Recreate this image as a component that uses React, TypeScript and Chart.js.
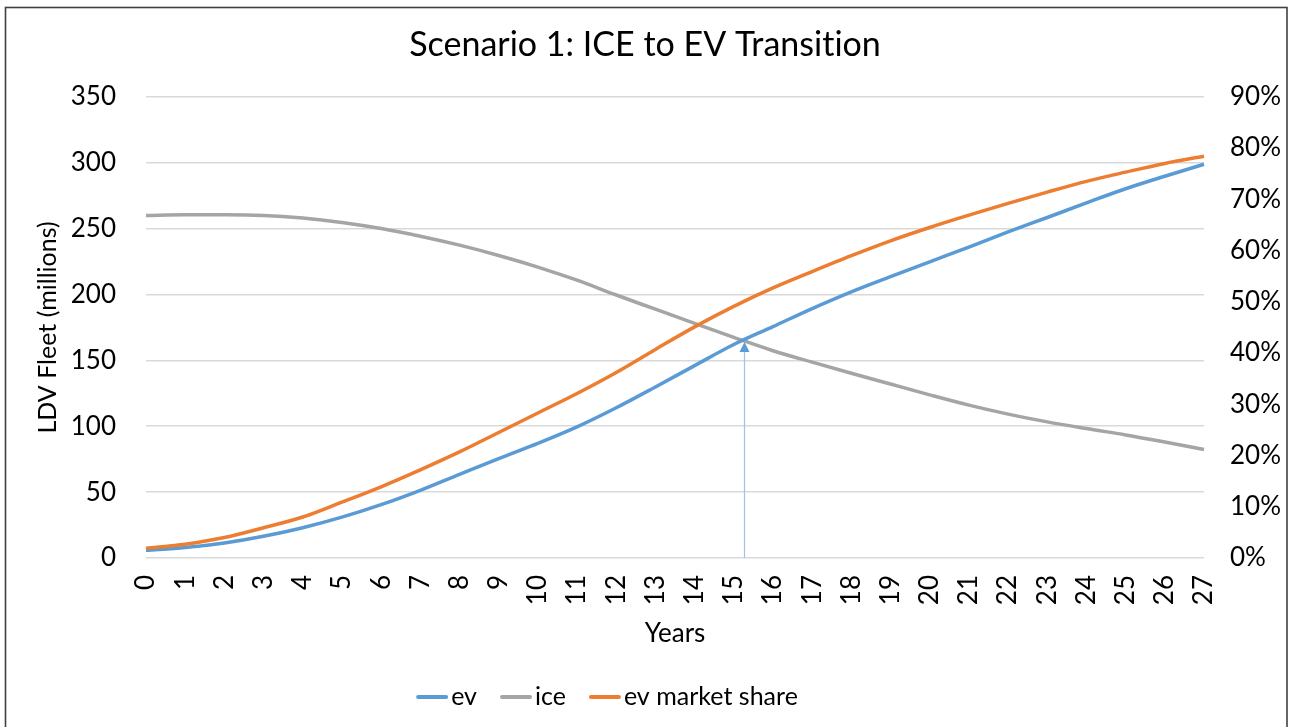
import React, { useEffect, useRef } from "react";
import { Chart, registerables } from "chart.js";

Chart.register(...registerables);

const years = ["0", "1", "2", "3", "4", "5", "6", "7", "8", "9", "10", "11", "12", "13", "14", "15", "16", "17", "18", "19", "20", "21", "22", "23", "24", "25", "26", "27"];

const evFleet = [5.8, 7.9, 11.4, 16.5, 23, 31, 40.5, 51.4, 63.5, 75.5, 87, 99.5, 114, 129.8, 146, 162, 175.6, 189.3, 202, 213.5, 224.8, 236, 247.5, 258.4, 269.5, 280.2, 289.7, 298.8];

const iceFleet = [260, 260.5, 260.5, 260, 258, 254.6, 250, 244.2, 237.4, 229.6, 220.8, 210.8, 199.6, 188.8, 178, 167.5, 157.3, 148.6, 140.2, 132, 123.8, 116, 109.2, 103.3, 98.2, 93.4, 88, 82.3];

const evShare = [1.9, 2.7, 4.0, 5.9, 8.0, 10.9, 13.9, 17.2, 20.7, 24.5, 28.3, 32.1, 36.2, 40.7, 45.1, 49.1, 52.7, 55.9, 59.0, 61.9, 64.5, 66.9, 69.2, 71.4, 73.5, 75.3, 77.0, 78.4];

const fleetTicks = [0, 50, 100, 150, 200, 250, 300, 350];
const shareTicks = [0, 10, 20, 30, 40, 50, 60, 70, 80, 90];

const titleText = "Scenario 1: ICE to EV Transition";
const arrowYear = 15.25;
const arrowValue = 164;

const FONT = "Lato, 'Open Sans', sans-serif";

export default function App() {
  const ref = useRef<HTMLCanvasElement | null>(null);

  useEffect(() => {
    if (!ref.current) return;

    const framePlugin = {
      id: "frame",
      beforeDraw(chart: any) {
        const ctx = chart.ctx;
        ctx.save();
        ctx.fillStyle = "#ffffff";
        ctx.fillRect(0, 0, chart.width, chart.height);
        ctx.strokeStyle = "#404040";
        ctx.lineWidth = 1.6;
        ctx.strokeRect(5.5, 7.5, 1281.5, 760);
        ctx.restore();
        // avoid the "ti" ligature of Lato
        try {
          ctx.textRendering = "optimizeSpeed";
          ctx.letterSpacing = "0.01px";
        } catch (e) {}
      },
    };

    const arrowPlugin = {
      id: "arrow",
      afterDatasetsDraw(chart: any) {
        const ctx = chart.ctx;
        const xs = chart.scales.x;
        const ys = chart.scales.y;
        const x = Math.round(xs.getPixelForValue(arrowYear)) + 0.5;
        const yTip = ys.getPixelForValue(arrowValue);
        const yBase = ys.getPixelForValue(0);
        ctx.save();
        ctx.strokeStyle = "#9dc3e6";
        ctx.lineWidth = 1.2;
        ctx.beginPath();
        ctx.moveTo(x, yBase);
        ctx.lineTo(x, yTip + 8);
        ctx.stroke();
        ctx.fillStyle = "#5b9bd5";
        ctx.beginPath();
        ctx.moveTo(x, yTip);
        ctx.lineTo(x - 5, yTip + 10);
        ctx.lineTo(x + 5, yTip + 10);
        ctx.closePath();
        ctx.fill();
        ctx.restore();
      },
    };

    const legendPlugin = {
      id: "customLegend",
      afterDraw(chart: any) {
        const ctx = chart.ctx;
        const items = chart.data.datasets.map((d: any) => ({ text: d.label, color: d.borderColor }));
        const lineLen = 32;
        const gapText = 3;
        const gapItem = 23;
        ctx.save();
        ctx.font = `25px ${FONT}`;
        ctx.textBaseline = "middle";
        ctx.textAlign = "left";
        const widths = items.map((it: any) => ctx.measureText(it.text).width);
        let total = 0;
        widths.forEach((w: number, i: number) => {
          total += lineLen + gapText + w + (i < items.length - 1 ? gapItem : 0);
        });
        const centerX = (chart.chartArea.left + chart.chartArea.right) / 2 - 68;
        const cy = 697;
        let x = centerX - total / 2;
        items.forEach((it: any, i: number) => {
          ctx.strokeStyle = it.color;
          ctx.lineWidth = 4;
          ctx.lineCap = "round";
          ctx.beginPath();
          ctx.moveTo(x + 2, cy);
          ctx.lineTo(x + lineLen - 2, cy);
          ctx.stroke();
          ctx.fillStyle = "#000000";
          ctx.fillText(it.text, x + lineLen + gapText, cy);
          x += lineLen + gapText + widths[i] + gapItem;
        });
        ctx.restore();
      },
    };

    const chart = new Chart(ref.current, {
      type: "line",
      data: {
        labels: years,
        datasets: [
          {
            label: "ev",
            data: evFleet,
            borderColor: "#5b9bd5",
            backgroundColor: "#5b9bd5",
            borderWidth: 3.5,
            pointRadius: 0,
            cubicInterpolationMode: "monotone",
            yAxisID: "y",
            order: 2,
          },
          {
            label: "ice",
            data: iceFleet,
            borderColor: "#a5a5a5",
            backgroundColor: "#a5a5a5",
            borderWidth: 3.5,
            pointRadius: 0,
            cubicInterpolationMode: "monotone",
            yAxisID: "y",
            order: 3,
          },
          {
            label: "ev market share",
            data: evShare,
            borderColor: "#ed7d31",
            backgroundColor: "#ed7d31",
            borderWidth: 3.5,
            pointRadius: 0,
            cubicInterpolationMode: "monotone",
            yAxisID: "y1",
            order: 1,
          },
        ],
      },
      options: {
        responsive: false,
        animation: false,
        layout: { padding: { top: 0, left: 0, right: 0, bottom: 69 } },
        plugins: {
          title: {
            display: true,
            text: titleText,
            color: "#000000",
            font: { family: FONT, size: 34, weight: "normal" },
            padding: { top: 25, bottom: 31 },
          },
          legend: { display: false },
          tooltip: { enabled: false },
        },
        scales: {
          x: {
            type: "category",
            offset: false,
            grid: { display: false, drawTicks: false },
            border: { display: false },
            ticks: {
              color: "#000000",
              font: { family: FONT, size: 26 },
              minRotation: 90,
              maxRotation: 90,
              autoSkip: false,
              padding: 17,
            },
            title: {
              display: true,
              text: "Years",
              color: "#000000",
              font: { family: FONT, size: 26 },
              padding: { top: 0, bottom: 9 },
            },
            afterFit: (scale: any) => {
              scale.height = 100;
            },
          },
          y: {
            position: "left",
            min: 0,
            max: 350,
            afterBuildTicks: (scale: any) => {
              scale.ticks = fleetTicks.map((v) => ({ value: v }));
            },
            grid: { color: "#d9d9d9", lineWidth: 1.5, drawTicks: false },
            border: { display: false },
            ticks: {
              color: "#000000",
              font: { family: FONT, size: 26 },
              padding: 30,
            },
            title: {
              display: true,
              text: "LDV Fleet (millions)",
              color: "#000000",
              font: { family: FONT, size: 25 },
              padding: { top: 33, bottom: 0 },
            },
            afterFit: (scale: any) => {
              scale.width = 146;
            },
          },
          y1: {
            position: "right",
            min: 0,
            max: 90,
            afterBuildTicks: (scale: any) => {
              scale.ticks = shareTicks.map((v) => ({ value: v }));
            },
            grid: { display: false, drawTicks: false },
            border: { display: false },
            ticks: {
              color: "#000000",
              font: { family: FONT, size: 26 },
              padding: 26,
              callback: (v: any) => `${v}%`,
            },
            afterFit: (scale: any) => {
              scale.width = 86;
            },
          },
        },
      },
      plugins: [framePlugin, arrowPlugin, legendPlugin],
    });

    return () => chart.destroy();
  }, []);

  return (
    <div style={{ position: "fixed", left: 0, top: 0, width: 1290, height: 727, background: "#fff" }}>
      <canvas ref={ref} width={1290} height={727} style={{ display: "block" }} />
    </div>
  );
}
